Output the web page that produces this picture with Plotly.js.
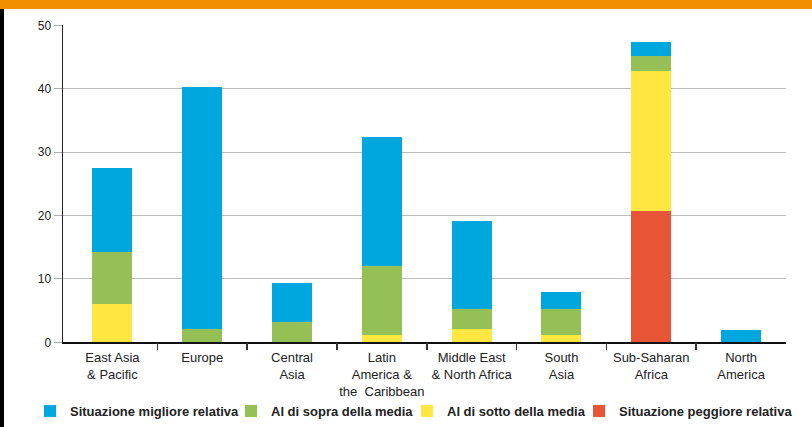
<!DOCTYPE html>
<html>
<head>
<meta charset="utf-8">
<script src="https://cdn.plot.ly/plotly-3.0.1.min.js"></script>
<style>
html,body{margin:0;padding:0;background:#fff;}
#chart{width:812px;height:427px;}
</style>
</head>
<body>
<div id="chart"></div>
<script>
var categories = [
  "East Asia<br>& Pacific",
  "Europe",
  "Central<br>Asia",
  "Latin<br>America &<br>the  Caribbean",
  "Middle East<br>& North Africa",
  "South<br>Asia",
  "Sub-Saharan<br>Africa",
  "North<br>America"
];
var seriesNames = [
  "Situazione migliore relativa",
  "Al di sopra della media",
  "Al di sotto della media",
  "Situazione peggiore relativa"
];
var migliore = [13.2, 38.1, 6.1, 20.3, 13.9, 2.8, 2.1, 2.0];
var sopra    = [8.2, 2.1, 3.2, 11.0, 3.1, 4.1, 2.35, 0];
var sotto    = [6.1, 0, 0, 1.1, 2.1, 1.1, 22.2, 0];
var peggiore = [0, 0, 0, 0, 0, 0, 20.65, 0];
var yTicks = [0, 10, 20, 30, 40, 50];
var categoryBoundaries = [0.5, 1.5, 2.5, 3.5, 4.5, 5.5, 6.5];

var colors = {
  migliore: "rgb(0,166,222)",
  sopra: "rgb(149,192,86)",
  sotto: "rgb(255,230,64)",
  peggiore: "rgb(232,84,54)"
};

var FONT = "'Liberation Sans', Arial, sans-serif";
var W = 812, H = 427;

function bar(name, vals, color, legendId) {
  return {
    type: "bar", name: name, x: categories, y: vals,
    marker: {color: color, line: {width: 0}},
    legend: legendId, hoverinfo: "x+y+name"
  };
}

var data = [
  bar(seriesNames[3], peggiore, colors.peggiore, "legend4"),
  bar(seriesNames[2], sotto, colors.sotto, "legend3"),
  bar(seriesNames[1], sopra, colors.sopra, "legend2"),
  bar(seriesNames[0], migliore, colors.migliore, "legend"),
  {type: "scatter", x: [0], y: [0], xaxis: "x2", mode: "markers",
   marker: {opacity: 0}, showlegend: false, hoverinfo: "skip"}
];

function legendAt(px) {
  return {
    x: px / W, xanchor: "left", y: (H - 411) / H, yanchor: "middle",
    orientation: "h", bgcolor: "rgba(0,0,0,0)",
    font: {family: FONT, size: 13, color: "#222", weight: "bold"},
    itemwidth: 30
  };
}

var xDomain = [63 / W, 786 / W];
var layout = {
  width: W, height: H,
  margin: {l: 0, r: 0, t: 0, b: 0, pad: 0},
  paper_bgcolor: "#fff", plot_bgcolor: "#fff",
  barmode: "stack", bargap: 0.555,
  showlegend: true,
  font: {family: FONT, color: "#222"},
  xaxis: {
    type: "category", domain: xDomain, range: [-0.55, 7.5],
    showline: true, linecolor: "#111", linewidth: 1.5,
    ticks: "outside", ticklen: 3, tickcolor: "rgba(0,0,0,0)",
    tickangle: 0,
    tickfont: {family: FONT, size: 13, color: "#222"},
    showgrid: false, zeroline: false, fixedrange: true, automargin: false
  },
  xaxis2: {
    type: "linear", overlaying: "x", anchor: "y", side: "bottom",
    range: [-0.55, 7.5], tickmode: "array", tickvals: categoryBoundaries,
    ticks: "outside", ticklen: 7, tickwidth: 1.5, tickcolor: "#333",
    showticklabels: false, showgrid: false, zeroline: false, showline: false
  },
  yaxis: {
    domain: [(H - 342.3) / H, (H - 25.3) / H], range: [0, 50],
    tickmode: "array", tickvals: yTicks,
    showline: true, linecolor: "#222", linewidth: 1.5,
    ticks: "outside", ticklen: 8, tickcolor: "#aaa", tickwidth: 1,
    tickfont: {family: FONT, size: 12, color: "#222"},
    showgrid: true, gridcolor: "#bdbdbd", gridwidth: 1.2,
    zeroline: false, fixedrange: true, automargin: false
  },
  legend: legendAt(30),
  legend2: legendAt(231),
  legend3: legendAt(407),
  legend4: legendAt(579),
  shapes: [
    {type: "rect", xref: "paper", yref: "paper", x0: 0, x1: 1, y0: 1 - 9 / H, y1: 1,
     fillcolor: "rgb(242,143,0)", line: {width: 0}, layer: "above"},
    {type: "rect", xref: "paper", yref: "paper", x0: 0, x1: 4 / W, y0: 0, y1: 1 - 9 / H,
     fillcolor: "#000", line: {width: 0}, layer: "above"}
  ]
};

Plotly.newPlot("chart", data, layout, {displayModeBar: false, staticPlot: true});
</script>
</body>
</html>
